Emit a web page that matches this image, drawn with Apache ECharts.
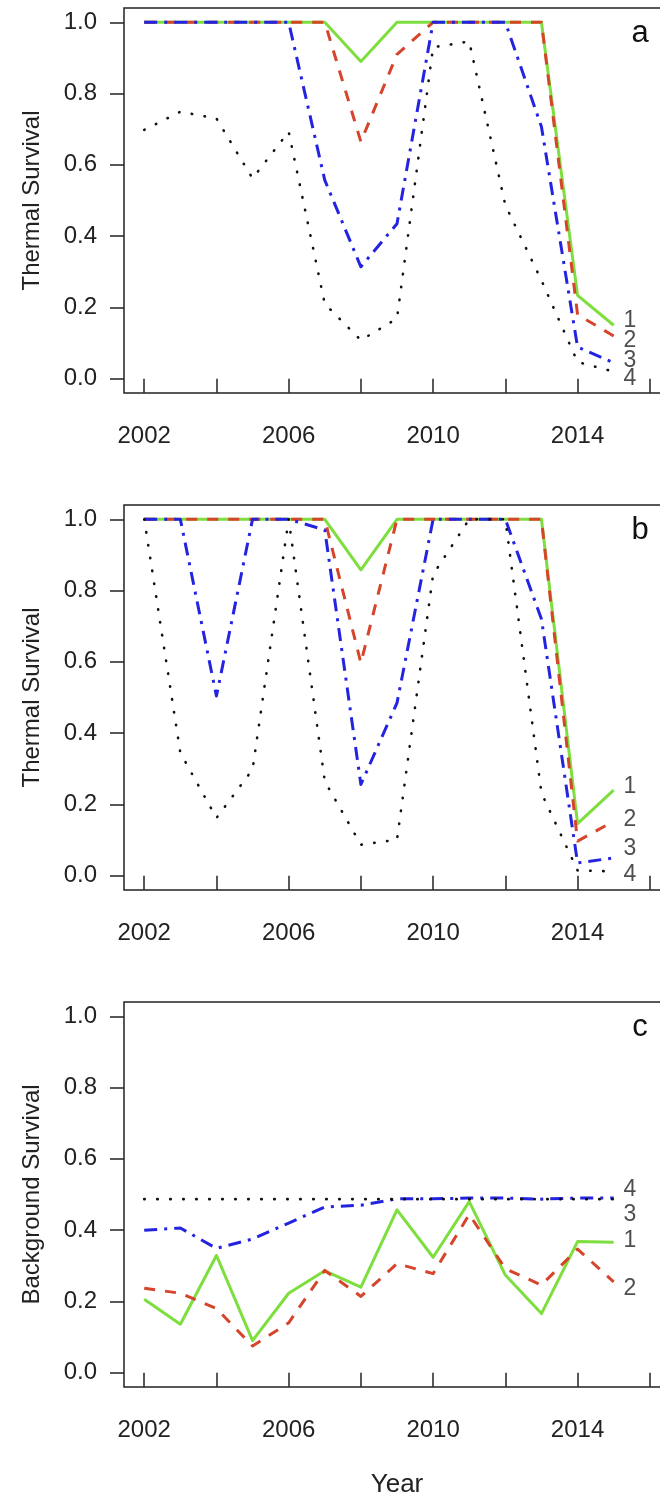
<!DOCTYPE html>
<html>
<head>
<meta charset="utf-8">
<script src="https://cdn.jsdelivr.net/npm/echarts@6/dist/echarts.min.js"></script>
<style>
html,body{margin:0;padding:0;background:#fff;}
#chart{width:660px;height:1498px;}
</style>
</head>
<body>
<div id="chart"></div>
<script>
// ---- data ----
const years = [2002,2003,2004,2005,2006,2007,2008,2009,2010,2011,2012,2013,2014,2015];

// panel a: Thermal Survival
const aGreen = [1,1,1,1,1,1,0.89,1,1,1,1,1,0.234,0.15];
const aRed   = [1,1,1,1,1,1,0.665,0.91,1,1,1,1,0.18,0.12];
const aBlue  = [1,1,1,1,1,0.557,0.314,0.435,1,1,1,0.707,0.089,0.045];
const aBlack = [0.698,0.749,0.73,0.562,0.693,0.21,0.108,0.169,0.93,0.946,0.487,0.276,0.047,0.02];

// panel b: Thermal Survival
const bGreen = [1,1,1,1,1,1,0.858,1,1,1,1,1,0.146,0.24];
const bRed   = [1,1,1,1,1,1,0.597,1,1,1,1,1,0.097,0.153];
const bBlue  = [1,1,0.504,1,1,0.97,0.256,0.485,1,1,1,0.72,0.036,0.05];
const bBlack = [1,0.345,0.162,0.298,1,0.265,0.087,0.101,0.845,1,1,0.232,0.015,0.012];

// panel c: Background Survival
const cGreen = [0.206,0.136,0.329,0.09,0.223,0.286,0.24,0.457,0.324,0.48,0.274,0.166,0.368,0.366];
const cRed   = [0.237,0.223,0.18,0.075,0.14,0.287,0.214,0.306,0.278,0.444,0.292,0.246,0.347,0.255];
const cBlue  = [0.4,0.406,0.349,0.375,0.42,0.465,0.47,0.488,0.488,0.49,0.49,0.487,0.49,0.49];
const cBlack = [0.487,0.487,0.487,0.487,0.487,0.487,0.487,0.487,0.487,0.487,0.487,0.487,0.487,0.487];

// line-end labels (text, value position)
const endLabels = ['1','2','3','4'];
const endLabelX = 2015.45;
const endLabelYA = [0.164,0.108,0.051,0.0];
const endLabelYB = [0.251,0.156,0.075,0.004];
const endLabelYC = [0.37,0.237,0.444,0.513];

const panelLetters = ['a','b','c'];
const yTitles = ['Thermal Survival','Thermal Survival','Background Survival'];
const xTitle = 'Year';
const yTicks = [0,0.2,0.4,0.6,0.8,1.0];
const xTicks = [2002,2004,2006,2008,2010,2012,2014,2016];
const xLabels = [2002,2006,2010,2014];

// ---- chart ----
const FONT = '"Liberation Sans", Arial, sans-serif';
const TXT = '#222';
const tops = [8, 505, 1002];
const H = 385;

const chart = echarts.init(document.getElementById('chart'), null, {renderer:'canvas'});

const grids = tops.map(t => ({
  left:124, top:t, right:-10, height:H,
  outerBoundsMode:'none', containLabel:false,
  show:true, borderColor:'#222', borderWidth:1.5, backgroundColor:'transparent'
}));

const xAxes = tops.map((t,i) => ({
  type:'value', gridIndex:i, min:2001.44, max:2016.56,
  axisLine:{show:false},
  axisTick:{show:true, inside:false, length:14, customValues:xTicks, lineStyle:{color:'#222', width:1.5}},
  axisLabel:{show:true, customValues:xLabels, margin:31, fontFamily:FONT, fontSize:24, color:TXT,
             formatter:v => String(Math.round(v))},
  splitLine:{show:false},
  name: i===2 ? xTitle : '',
  nameLocation:'middle', nameGap:85,
  nameTextStyle:{fontFamily:FONT, fontSize:26, color:TXT}
}));

const yAxes = tops.map((t,i) => ({
  type:'value', gridIndex:i, min:-0.04, max:1.04,
  axisLine:{show:false},
  axisTick:{show:true, inside:false, length:14, customValues:yTicks, lineStyle:{color:'#222', width:1.5}},
  axisLabel:{show:true, customValues:yTicks, margin:27, fontFamily:FONT, fontSize:24, color:TXT,
             formatter:v => v.toFixed(1)},
  splitLine:{show:false},
  name: yTitles[i], nameLocation:'middle', nameGap:80,
  nameTextStyle:{fontFamily:FONT, fontSize:24, color:TXT}
}));

const GREEN = '#7ede3e', RED = '#d6452b', BLUE = '#2323e0', BLACK = '#111';

function line(idx, arr, color, type, width, cap){
  return {
    type:'line', xAxisIndex:idx, yAxisIndex:idx,
    data: years.map((y,k)=>[y, arr[k]]),
    showSymbol:false, symbol:'none', silent:true, clip:false,
    lineStyle:{color:color, width:width, type:type, cap:cap||'butt', join:'round'},
    animation:false
  };
}
function labels(idx, ys){
  return {
    type:'scatter', xAxisIndex:idx, yAxisIndex:idx, symbolSize:1,
    itemStyle:{color:'rgba(0,0,0,0)'},
    data: endLabels.map((s,k)=>({value:[endLabelX, ys[k]], name:s})),
    label:{show:true, position:'inside', formatter:p=>p.name, fontFamily:FONT, fontSize:23, color:TXT},
    silent:true, animation:false
  };
}
const panels = [[aGreen,aRed,aBlue,aBlack,endLabelYA],[bGreen,bRed,bBlue,bBlack,endLabelYB],[cGreen,cRed,cBlue,cBlack,endLabelYC]];
const series = [];
panels.forEach((p,i)=>{
  series.push(line(i, p[0], GREEN, 'solid', 3));
  series.push(line(i, p[1], RED, [11,10], 3));
  series.push(line(i, p[2], BLUE, [13,7,3,7], 3));
  series.push(line(i, p[3], BLACK, [0.5,12.5], 2.6, 'round'));
  series.push(labels(i, p[4]));
});

const graphic = tops.map((t,i)=>({
  type:'text', x:640, y:t+25,
  style:{text:panelLetters[i], fontFamily:FONT, fontSize:31, fill:'#111', align:'center', verticalAlign:'middle'}
}));

chart.setOption({
  animation:false,
  backgroundColor:'#fff',
  grid:grids, xAxis:xAxes, yAxis:yAxes, series:series, graphic:graphic
});
</script>
</body>
</html>
